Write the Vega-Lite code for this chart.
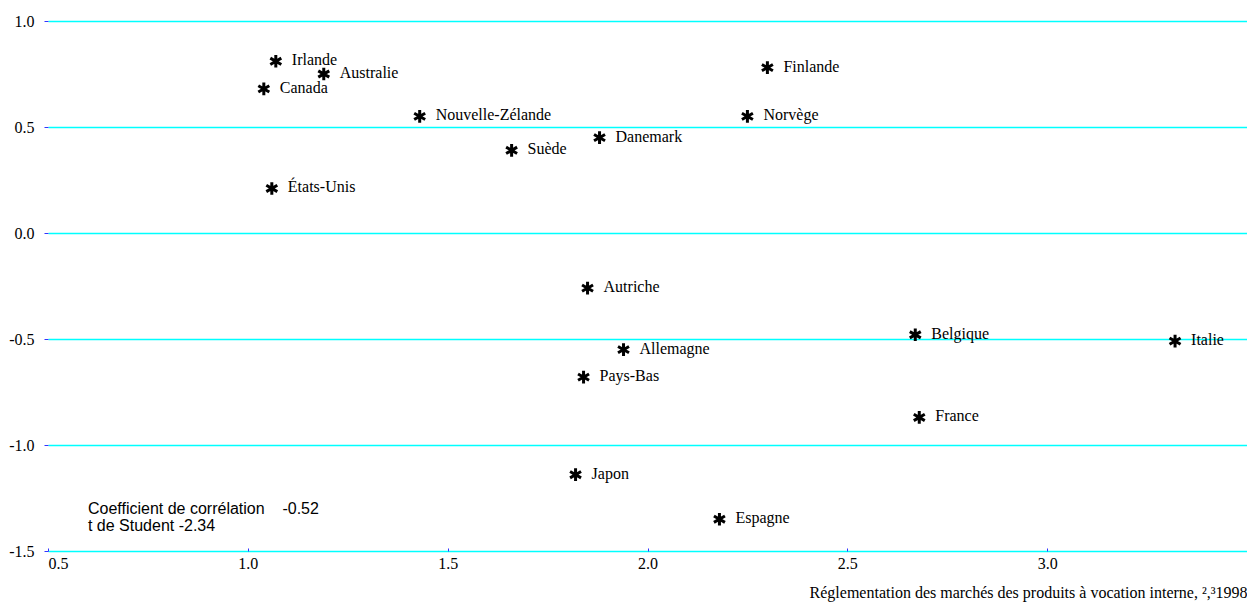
{
  "$schema": "https://vega.github.io/schema/vega-lite/v6.json",
  "width": 1199,
  "height": 530,
  "autosize": "none",
  "padding": {"left": 48, "top": 21, "right": 0, "bottom": 51},
  "background": "white",
  "config": {
    "view": {"stroke": null},
    "font": "Liberation Serif",
    "axis": {
      "labelFont": "Liberation Serif",
      "titleFont": "Liberation Serif",
      "gridColor": "#00ffff",
      "gridOpacity": 1,
      "domain": false
    }
  },
  "datasets": {
    "pays": [
      {"pays": "Irlande", "reglementation": 1.07, "valeur": 0.81},
      {"pays": "Australie", "reglementation": 1.19, "valeur": 0.75},
      {"pays": "Canada", "reglementation": 1.04, "valeur": 0.68},
      {"pays": "Nouvelle-Zélande", "reglementation": 1.43, "valeur": 0.55},
      {"pays": "Suède", "reglementation": 1.66, "valeur": 0.39},
      {"pays": "Danemark", "reglementation": 1.88, "valeur": 0.45},
      {"pays": "États-Unis", "reglementation": 1.06, "valeur": 0.21},
      {"pays": "Finlande", "reglementation": 2.3, "valeur": 0.78},
      {"pays": "Norvège", "reglementation": 2.25, "valeur": 0.55},
      {"pays": "Autriche", "reglementation": 1.85, "valeur": -0.26},
      {"pays": "Belgique", "reglementation": 2.67, "valeur": -0.48},
      {"pays": "Italie", "reglementation": 3.32, "valeur": -0.51},
      {"pays": "Allemagne", "reglementation": 1.94, "valeur": -0.55},
      {"pays": "Pays-Bas", "reglementation": 1.84, "valeur": -0.68},
      {"pays": "France", "reglementation": 2.68, "valeur": -0.87},
      {"pays": "Japon", "reglementation": 1.82, "valeur": -1.14},
      {"pays": "Espagne", "reglementation": 2.18, "valeur": -1.35}
    ],
    "note": [
      {"reglementation": 0.6, "valeur": -1.326, "texte": ["Coefficient de corrélation \u00a0\u00a0\u00a0-0.52", "t de Student -2.34"]}
    ]
  },
  "encoding": {
    "x": {
      "field": "reglementation", "type": "quantitative",
      "scale": {"domain": [0.5, 3.5], "nice": false, "zero": false},
      "axis": {
        "values": [0.5, 1.0, 1.5, 2.0, 2.5, 3.0],
        "format": ".1f",
        "grid": false,
        "domain": false,
        "ticks": true,
        "tickColor": "#3333ff",
        "tickSize": -3,
        "labelPadding": 7,
        "labelFont": "Liberation Serif",
        "labelFontSize": 16,
        "labelColor": "black",
        "title": "Réglementation des marchés des produits à vocation interne, ²,³1998",
        "titleFont": "Liberation Serif",
        "titleFontSize": 16,
        "titleFontWeight": "normal",
        "titleColor": "black",
        "titleAnchor": "end",
        "titleAlign": "right",
        "titleX": 1199,
        "titleY": 46,
        "titleBaseline": "alphabetic"
      }
    },
    "y": {
      "field": "valeur", "type": "quantitative",
      "scale": {"domain": [-1.5, 1.0], "nice": false, "zero": false},
      "axis": {
        "values": [-1.5, -1.0, -0.5, 0.0, 0.5, 1.0],
        "format": ".1f",
        "labelExpr": "replace(datum.label, '\u2212', '-')",
        "grid": true,
        "gridColor": "#00ffff",
        "gridWidth": 1.6,
        "gridOpacity": 1,
        "domain": false,
        "tickColor": "#3333ff",
        "tickSize": 4,
        "labelPadding": 10,
        "labelFont": "Liberation Serif",
        "labelFontSize": 16,
        "labelColor": "black",
        "title": null
      }
    }
  },
  "layer": [
    {
      "data": {"name": "pays"},
      "mark": {"type": "point", "shape": "M0,-1L0,1M-0.87,-0.5L0.87,0.5M-0.87,0.5L0.87,-0.5", "filled": false, "stroke": "black", "strokeWidth": 3, "size": 160, "opacity": 1}
    },
    {
      "data": {"name": "pays"},
      "mark": {"type": "text", "align": "left", "baseline": "middle", "dx": 16, "dy": -1, "font": "Liberation Serif", "fontSize": 16, "color": "black"},
      "encoding": {
        "text": {"field": "pays"}
      }
    },
    {
      "data": {"name": "note"},
      "mark": {"type": "text", "align": "left", "baseline": "alphabetic", "font": "Liberation Sans", "fontSize": 16, "lineHeight": 17, "color": "black"},
      "encoding": {
        "text": {"field": "texte"}
      }
    }
  ]
}
